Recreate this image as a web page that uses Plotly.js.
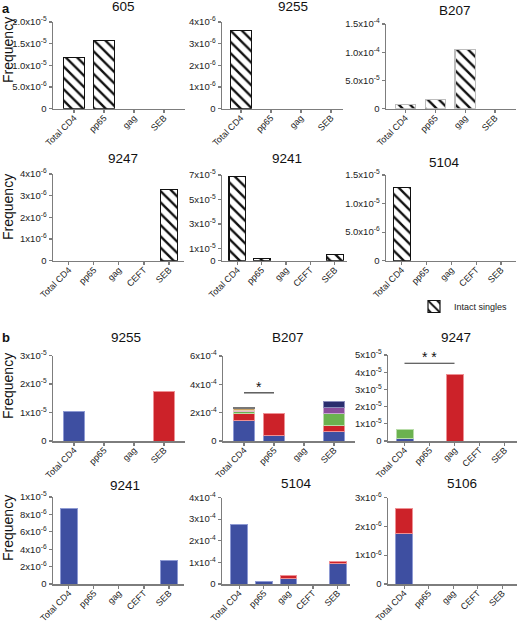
<!DOCTYPE html>
<html><head><meta charset="utf-8">
<script src="https://cdn.plot.ly/plotly-3.0.1.min.js"></script>
<style>body{margin:0;background:#fff}#c{width:520px;height:625px}</style>
</head><body><div id="c"></div>
<script>
// ---------- categories ----------
const cats4 = ['Total CD4','pp65','gag','SEB'];
const cats5 = ['Total CD4','pp65','gag','CEFT','SEB'];

// ---------- panel a: intact singles ----------
const a605  = [1.18e-5, 1.57e-5, 0, 0];
const a9255 = [3.6e-6, 0, 0, 0];
const aB207 = [7e-6, 1.66e-5, 1.055e-4, 0];
const a9247 = [0, 0, 0, 0, 3.29e-6];
const a9241 = [6.86e-5, 2e-6, 0, 0, 5.2e-6];
const a5104 = [1.285e-5, 0, 0, 0, 0];

// ---------- panel b: stacked clones ----------
const b9255_blue = [1.04e-5, 0, 0, 0];
const b9255_red  = [0, 0, 0, 1.73e-5];

const bB207_blue   = [1.46e-4, 0.38e-4, 0, 0.69e-4];
const bB207_red    = [0.47e-4, 1.55e-4, 0, 0.42e-4];
const bB207_green  = [0.12e-4, 0, 0, 0.82e-4];
const bB207_mauve  = [0.12e-4, 0, 0, 0];
const bB207_purple = [0, 0, 0, 0.45e-4];
const bB207_tan    = [0.10e-4, 0, 0, 0];
const bB207_navy   = [0, 0, 0, 0.42e-4];
const bB207_black  = [0.07e-4, 0, 0, 0];

const b9247_blue  = [1.2e-6, 0, 0, 0, 0];
const b9247_green = [5.4e-6, 0, 0, 0, 0];
const b9247_red   = [0, 0, 3.88e-5, 0, 0];

const b9241_blue = [8.67e-6, 0, 0, 0, 2.68e-6];

const b5104_blue = [2.74e-4, 0.12e-4, 0.25e-4, 0, 0.95e-4];
const b5104_red  = [0, 0, 0.14e-4, 0, 0.08e-4];

const b5106_blue = [1.76e-6, 0, 0, 0, 0];
const b5106_red  = [0.87e-6, 0, 0, 0, 0];

// ---------- tick values / labels ----------
const t605_v = [0, 5e-6, 1e-5, 1.5e-5, 2e-5];
const t605_t = ['0','5.0x10<sup>-6</sup>','1.0x10<sup>-5</sup>','1.5x10<sup>-5</sup>','2.0x10<sup>-5</sup>'];
const t9255a_v = [0, 1e-6, 2e-6, 3e-6, 4e-6];
const t9255a_t = ['0','1x10<sup>-6</sup>','2x10<sup>-6</sup>','3x10<sup>-6</sup>','4x10<sup>-6</sup>'];
const tB207a_v = [0, 5e-5, 1e-4, 1.5e-4];
const tB207a_t = ['0','5.0x10<sup>-5</sup>','1.0x10<sup>-4</sup>','1.5x10<sup>-4</sup>'];
const t9247a_v = [0, 1e-6, 2e-6, 3e-6, 4e-6];
const t9247a_t = ['0','1x10<sup>-6</sup>','2x10<sup>-6</sup>','3x10<sup>-6</sup>','4x10<sup>-6</sup>'];
const t9241a_v = [0, 1e-5, 3e-5, 5e-5, 7e-5];
const t9241a_t = ['0','1x10<sup>-5</sup>','3x10<sup>-5</sup>','5x10<sup>-5</sup>','7x10<sup>-5</sup>'];
const t5104a_v = [0, 5e-6, 1e-5, 1.5e-5];
const t5104a_t = ['0','5.0x10<sup>-6</sup>','1.0x10<sup>-5</sup>','1.5x10<sup>-5</sup>'];
const t9255b_v = [0, 1e-5, 2e-5, 3e-5];
const t9255b_t = ['0','1x10<sup>-5</sup>','2x10<sup>-5</sup>','3x10<sup>-5</sup>'];
const tB207b_v = [0, 2e-4, 4e-4, 6e-4];
const tB207b_t = ['0','2x10<sup>-4</sup>','4x10<sup>-4</sup>','6x10<sup>-4</sup>'];
const t9247b_v = [0, 1e-5, 2e-5, 3e-5, 4e-5, 5e-5];
const t9247b_t = ['0','1x10<sup>-5</sup>','2x10<sup>-5</sup>','3x10<sup>-5</sup>','4x10<sup>-5</sup>','5x10<sup>-5</sup>'];
const t9241b_v = [0, 2e-6, 4e-6, 6e-6, 8e-6, 1e-5];
const t9241b_t = ['0','2x10<sup>-6</sup>','4x10<sup>-6</sup>','6x10<sup>-6</sup>','8x10<sup>-6</sup>','1x10<sup>-5</sup>'];
const t5104b_v = [0, 1e-4, 2e-4, 3e-4, 4e-4];
const t5104b_t = ['0','1x10<sup>-4</sup>','2x10<sup>-4</sup>','3x10<sup>-4</sup>','4x10<sup>-4</sup>'];
const t5106b_v = [0, 1e-6, 2e-6, 3e-6];
const t5106b_t = ['0','1x10<sup>-6</sup>','2x10<sup>-6</sup>','3x10<sup>-6</sup>'];

// ---------- drawing ----------
const W = 520, H = 625;
const px = x => x / W, py = y => 1 - y / H;
const nz = arr => arr.map(v => v === 0 ? null : v);
const FONT = 'Liberation Sans, Arial, sans-serif';

const COL = {
  blue:['#3E4FA1','#8E9AD3'], red:['#CC2229','#EE9094'], green:['#6BB24F','#B9DDAA'],
  mauve:['#C07A9E','#E3B9CE'], purple:['#8A4E9C','#C7A6D0'], tan:['#C9A062','#E6D0AE'],
  navy:['#2A2E6E','#8A8DBB'], black:['#1A1A1A','#777']
};

const panels = [
  {title:'605',  cats:cats4, x:[53,185],  y:[22,108.7],  xr:[-0.7,3.7],  tv:t605_v,  tt:t605_t,  tx:123, ty:7,
   a:a605},
  {title:'9255', cats:cats4, x:[222,343], y:[22,108.7],  xr:[-0.63,3.4], tv:t9255a_v,tt:t9255a_t,tx:293, ty:7,
   a:a9255},
  {title:'B207', cats:cats4, x:[386,516], y:[24,108.7],  xr:[-0.65,3.7], tv:tB207a_v,tt:tB207a_t,tx:455, ty:10,
   a:aB207, light:true},
  {title:'9247', cats:cats5, x:[53,184],  y:[174,260.7], xr:[-0.63,4.6], tv:t9247a_v,tt:t9247a_t,tx:123, ty:158,
   a:a9247},
  {title:'9241', cats:cats5, x:[222,347], y:[175,260.7], xr:[-0.63,4.5], tv:t9241a_v,tt:t9241a_t,tx:287, ty:158,
   a:a9241},
  {title:'5104', cats:cats5, x:[386,516], y:[175,260.7], xr:[-0.63,4.6], tv:t5104a_v,tt:t5104a_t,tx:444, ty:162,
   a:a5104, legend:true},
  {title:'9255', cats:cats4, x:[53,185],  y:[355.5,441], xr:[-0.7,3.7],  tv:t9255b_v,tt:t9255b_t,tx:126, ty:338,
   b:[[b9255_blue,'blue'],[b9255_red,'red']]},
  {title:'B207', cats:cats4, x:[223,355], y:[356,441],   xr:[-0.7,3.7],  tv:tB207b_v,tt:tB207b_t,tx:288, ty:338,
   b:[[bB207_blue,'blue'],[bB207_red,'red'],[bB207_green,'green'],[bB207_mauve,'mauve'],[bB207_purple,'purple'],
      [bB207_tan,'tan'],[bB207_navy,'navy'],[bB207_black,'black']],
   sig:{from:'Total CD4', to:'pp65', y:3.4e-4, text:'*'}},
  {title:'9247', cats:cats5, x:[388,517], y:[355,441],   xr:[-0.66,4.5], tv:t9247b_v,tt:t9247b_t,tx:456, ty:338,
   b:[[b9247_blue,'blue'],[b9247_green,'green'],[b9247_red,'red']],
   sig:{from:'Total CD4', to:'gag', y:4.52e-5, text:'* *'}},
  {title:'9241', cats:cats5, x:[53,184],  y:[497,584], xr:[-0.63,4.6], tv:t9241b_v,tt:t9241b_t,tx:125, ty:485,
   b:[[b9241_blue,'blue']]},
  {title:'5104', cats:cats5, x:[222,350], y:[497.5,584],   xr:[-0.7,4.5],  tv:t5104b_v,tt:t5104b_t,tx:296, ty:483,
   b:[[b5104_blue,'blue'],[b5104_red,'red']]},
  {title:'5106', cats:cats5, x:[388,517], y:[497.5,584],   xr:[-0.66,4.6], tv:t5106b_v,tt:t5106b_t,tx:462, ty:483,
   b:[[b5106_blue,'blue'],[b5106_red,'red']]}
];

const traces = [];
const annotations = [];
const shapes = [];
const layout = {
  width: W, height: H, margin:{l:0,r:0,t:0,b:0}, paper_bgcolor:'#fff', plot_bgcolor:'rgba(0,0,0,0)',
  barmode:'stack', showlegend:true, font:{family:FONT, color:'#222'},
  legend:{x:px(414), y:py(292), xanchor:'left', yanchor:'top', font:{size:9, family:FONT, color:'#222'},
          bgcolor:'rgba(0,0,0,0)', itemwidth:30, tracegroupgap:0},
  annotations, shapes
};

panels.forEach((p, k) => {
  const i = k + 1;
  const xn = i === 1 ? 'x' : 'x' + i, yn = i === 1 ? 'y' : 'y' + i;
  const xk = i === 1 ? 'xaxis' : 'xaxis' + i, yk = i === 1 ? 'yaxis' : 'yaxis' + i;
  layout[xk] = {
    domain:[px(p.x[0]), px(p.x[1])], anchor:yn, type:'category', categoryorder:'array', categoryarray:p.cats,
    range:p.xr, showline:true, linecolor:'#7d7d7d', linewidth:1.5, ticks:'outside', ticklen:3, tickwidth:1.2,
    tickcolor:'#7d7d7d', tickangle:-45, tickfont:{size:9, family:FONT, color:'#222'}, ticklabelstandoff:-4,
    showgrid:false, zeroline:false, fixedrange:true
  };
  layout[yk] = {
    domain:[py(p.y[1]), py(p.y[0])], anchor:xn, range:[0, p.tv[p.tv.length-1]],
    tickmode:'array', tickvals:p.tv, ticktext:p.tt, showline:true, linecolor:'#7d7d7d', linewidth:1.5,
    ticks:'outside', ticklen:3, tickwidth:1.2, tickcolor:'#7d7d7d', tickfont:{size:9.5, family:FONT, color:'#222'},
    showgrid:false, zeroline:false, fixedrange:true
  };
  if (p.a) {
    traces.push({
      type:'bar', x:p.cats, y:nz(p.a), xaxis:xn, yaxis:yn, width:0.68, name:'Intact singles',
      showlegend:!!p.legend, hoverinfo:'skip',
      marker:{color:'#fff', line:{color:p.light ? '#bdbdbd' : '#111', width:1.2},
              pattern:{shape:'\\', fgcolor:'#111', bgcolor:'#fff', size:8, solidity:0.3}}
    });
  } else {
    p.b.forEach(([vals, c]) => {
      traces.push({
        type:'bar', x:p.cats, y:nz(vals), xaxis:xn, yaxis:yn, width:0.68, showlegend:false, hoverinfo:'skip',
        marker:{color:COL[c][0], line:{color:COL[c][1], width:1}}
      });
    });
  }
  annotations.push({xref:'paper', yref:'paper', x:px(p.tx), y:py(p.ty), text:p.title, showarrow:false,
    xanchor:'center', yanchor:'middle', font:{size:13.5, family:FONT, color:'#111'}});
  if (p.sig) {
    shapes.push({type:'line', xref:xn, yref:yn, x0:p.sig.from, x1:p.sig.to, y0:p.sig.y, y1:p.sig.y,
      line:{color:'#333', width:1.2}});
    annotations.push({xref:xn, yref:yn, x:(p.cats.indexOf(p.sig.from)+p.cats.indexOf(p.sig.to))/2, y:p.sig.y,
      text:p.sig.text, showarrow:false, xanchor:'center', yanchor:'bottom', yshift:-4,
      font:{size:14, family:FONT, color:'#111'}});
  }
});

// Frequency labels and panel letters
[[8,50],[8,207],[8,386],[8,528]].forEach(([x,y]) => annotations.push({
  xref:'paper', yref:'paper', x:px(x), y:py(y), text:'Frequency', textangle:-90, showarrow:false,
  xanchor:'center', yanchor:'middle', font:{size:14, family:FONT, color:'#111'}}));
[['a',6,9],['b',6,337]].forEach(([t,x,y]) => annotations.push({
  xref:'paper', yref:'paper', x:px(x), y:py(y), text:'<b>'+t+'</b>', showarrow:false,
  xanchor:'center', yanchor:'middle', font:{size:13, family:FONT, color:'#111'}}));

Plotly.newPlot('c', traces, layout, {staticPlot:true, displayModeBar:false});
</script></body></html>
